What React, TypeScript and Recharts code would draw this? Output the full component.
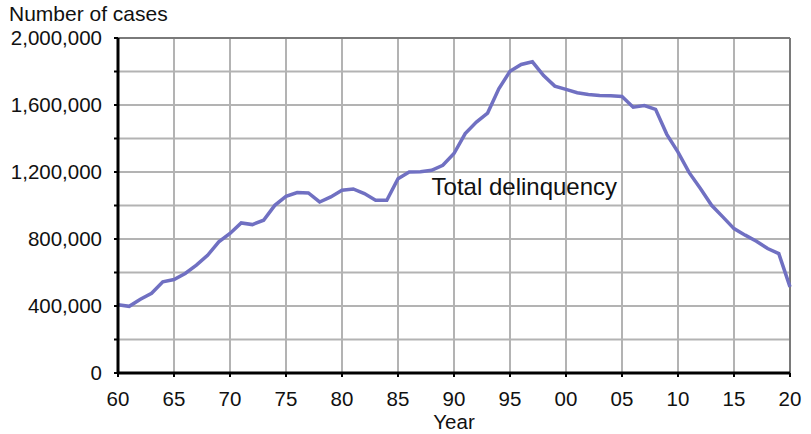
import { LineChart, Line, XAxis, YAxis, CartesianGrid, ReferenceLine, ReferenceDot } from "recharts";

const years = [
  1960, 1961, 1962, 1963, 1964, 1965, 1966, 1967, 1968, 1969,
  1970, 1971, 1972, 1973, 1974, 1975, 1976, 1977, 1978, 1979,
  1980, 1981, 1982, 1983, 1984, 1985, 1986, 1987, 1988, 1989,
  1990, 1991, 1992, 1993, 1994, 1995, 1996, 1997, 1998, 1999,
  2000, 2001, 2002, 2003, 2004, 2005, 2006, 2007, 2008, 2009,
  2010, 2011, 2012, 2013, 2014, 2015, 2016, 2017, 2018, 2019,
  2020,
];

const cases = [
  408000, 398000, 440000, 476000, 544000, 558000, 594000, 644000, 703000, 783000,
  833000, 896000, 886000, 912000, 1001000, 1055000, 1077000, 1075000, 1021000, 1051000,
  1091000, 1099000, 1071000, 1031000, 1031000, 1160000, 1200000, 1202000, 1210000, 1240000,
  1310000, 1429000, 1498000, 1552000, 1697000, 1802000, 1842000, 1858000, 1776000, 1713000,
  1693000, 1673000, 1663000, 1657000, 1655000, 1651000, 1587000, 1597000, 1574000, 1425000,
  1319000, 1196000, 1101000, 1001000, 932000, 862000, 823000, 787000, 743000, 713000,
  514000,
];

const xTicks = [1960, 1965, 1970, 1975, 1980, 1985, 1990, 1995, 2000, 2005, 2010, 2015, 2020];
const yTicks = [0, 200000, 400000, 600000, 800000, 1000000, 1200000, 1400000, 1600000, 1800000, 2000000];

const data = years.map((year, i) => ({ year, cases: cases[i] }));

const font = '"Liberation Sans", Arial, sans-serif';

export default function App() {
  return (
    <div style={{ position: "absolute", left: 0, top: 0, width: 811, height: 434, fontFamily: font, background: "#fff" }}>
      <div style={{ position: "absolute", left: 9, top: 4, fontSize: 21, lineHeight: "20px", color: "#111" }}>
        Number of cases
      </div>
      <LineChart width={811} height={434} data={data} margin={{ top: 38, right: 21, bottom: 1, left: 8 }}>
        <CartesianGrid stroke="#b3b3b3" strokeWidth={2} />
        <ReferenceLine y={2000000} stroke="#7a7a7a" strokeWidth={2} />
        <ReferenceLine x={2020} stroke="#7a7a7a" strokeWidth={2} />
        <XAxis
          dataKey="year"
          type="number"
          domain={[1960, 2020]}
          ticks={xTicks}
          interval={0}
          tickFormatter={(v: number) => String(v % 100).padStart(2, "0")}
          height={60}
          tickSize={4}
          tickMargin={14}
          axisLine={{ stroke: "#000", strokeWidth: 3 }}
          tickLine={{ stroke: "#000", strokeWidth: 2 }}
          tick={{ fill: "#111", fontSize: 20.5 }}
          label={{ value: "Year", position: "insideBottom", offset: 4, fill: "#111", fontSize: 20.5 }}
        />
        <YAxis
          type="number"
          domain={[0, 2000000]}
          ticks={yTicks}
          interval={0}
          width={110}
          tickSize={4}
          tickMargin={12}
          tickFormatter={(v: number) => (v % 400000 === 0 ? v.toLocaleString("en-US") : "")}
          axisLine={{ stroke: "#000", strokeWidth: 3 }}
          tickLine={{ stroke: "#000", strokeWidth: 2 }}
          tick={{ fill: "#111", fontSize: 20.5 }}
        />
        <Line
          type="linear"
          dataKey="cases"
          stroke="#7070c2"
          strokeWidth={3.5}
          dot={false}
          isAnimationActive={false}
        />
        <ReferenceDot
          x={1988}
          y={1115000}
          r={0}
          fill="none"
          stroke="none"
          label={{ value: "Total delinquency", position: "right", offset: 0, fill: "#111", fontSize: 24 }}
        />
      </LineChart>
    </div>
  );
}
